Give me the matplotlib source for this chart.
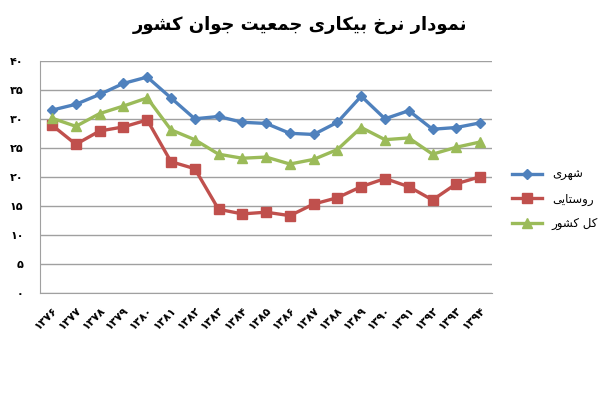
import matplotlib
matplotlib.use("Agg")
import matplotlib.pyplot as plt

years = ["1376", "1377", "1378", "1379", "1380", "1381", "1382", "1383", "1384", "1385",
         "1386", "1387", "1388", "1389", "1390", "1391", "1392", "1393", "1394"]
urban = [31.5, 32.5, 34.2, 36.1, 37.2, 33.6, 30.0, 30.4, 29.4, 29.2,
         27.5, 27.3, 29.4, 33.9, 30.0, 31.4, 28.2, 28.5, 29.3]
rural = [28.9, 25.6, 27.9, 28.6, 29.8, 22.6, 21.4, 14.4, 13.6, 13.9,
         13.3, 15.3, 16.4, 18.3, 19.7, 18.3, 16.0, 18.8, 20.0]
total = [30.1, 28.7, 30.9, 32.2, 33.6, 28.1, 26.4, 23.9, 23.2, 23.4,
         22.2, 23.0, 24.7, 28.5, 26.4, 26.7, 23.9, 25.1, 26.0]
yticks = [0, 5, 10, 15, 20, 25, 30, 35, 40]

title = "نمودار نرخ بیکاری جمعیت جوان کشور"
names = ["شهری", "روستایی", "کل کشور"]

# presentation forms: isolated, final, initial, medial
forms = {
    "ا": ("\uFE8D", "\uFE8E", None, None),
    "ب": ("\uFE8F", "\uFE90", "\uFE91", "\uFE92"),
    "ت": ("\uFE95", "\uFE96", "\uFE97", "\uFE98"),
    "ج": ("\uFE9D", "\uFE9E", "\uFE9F", "\uFEA0"),
    "خ": ("\uFEA5", "\uFEA6", "\uFEA7", "\uFEA8"),
    "د": ("\uFEA9", "\uFEAA", None, None),
    "ر": ("\uFEAD", "\uFEAE", None, None),
    "س": ("\uFEB1", "\uFEB2", "\uFEB3", "\uFEB4"),
    "ش": ("\uFEB5", "\uFEB6", "\uFEB7", "\uFEB8"),
    "ع": ("\uFEC9", "\uFECA", "\uFECB", "\uFECC"),
    "ل": ("\uFEDD", "\uFEDE", "\uFEDF", "\uFEE0"),
    "م": ("\uFEE1", "\uFEE2", "\uFEE3", "\uFEE4"),
    "ن": ("\uFEE5", "\uFEE6", "\uFEE7", "\uFEE8"),
    "ه": ("\uFEE9", "\uFEEA", "\uFEEB", "\uFEEC"),
    "و": ("\uFEED", "\uFEEE", None, None),
    "ک": ("\uFB8E", "\uFB8F", "\uFB90", "\uFB91"),
    "ی": ("\uFBFC", "\uFBFD", "\uFBFE", "\uFBFF"),
}


def shape(s):
    out = []
    for i, c in enumerate(s):
        if c not in forms:
            out.append(c)
            continue
        prev = s[i - 1] if i > 0 else ""
        nxt = s[i + 1] if i + 1 < len(s) else ""
        jp = prev in forms and forms[prev][2] is not None
        jn = forms[c][2] is not None and nxt in forms
        if jp and jn:
            out.append(forms[c][3])
        elif jp:
            out.append(forms[c][1])
        elif jn:
            out.append(forms[c][2])
        else:
            out.append(forms[c][0])
    return "".join(out)[::-1]


def fa_digits(s):
    return str(s).translate(str.maketrans("0123456789", "۰۱۲۳۴۵۶۷۸۹"))


plt.rcParams['font.family'] = ['DejaVu Sans']

fig = plt.figure(figsize=(6, 4), dpi=100)
ax = fig.add_axes([0.067, 0.268, 0.753, 0.58])

x = list(range(len(years)))
ax.plot(x, urban, color="#4F81BD", lw=2.4, marker="D", ms=5.5, label=shape(names[0]))
ax.plot(x, rural, color="#C0504D", lw=2.4, marker="s", ms=7, label=shape(names[1]))
ax.plot(x, total, color="#9BBB59", lw=2.4, marker="^", ms=7.5, label=shape(names[2]))

ax.set_xlim(-0.5, len(years) - 0.5)
ax.set_ylim(0, 40)
ax.set_yticks(yticks)
ax.set_yticklabels([fa_digits(v) for v in yticks], fontsize=8, fontweight="bold")
ax.set_xticks(x)
ax.set_xticklabels([fa_digits(y) for y in years], rotation=45, ha="right",
                   rotation_mode="anchor", fontsize=8, fontweight="bold")
ax.tick_params(length=0)
ax.tick_params(axis="y", pad=12)
ax.tick_params(axis="x", pad=9)
ax.yaxis.grid(True, color="#A0A0A0", lw=1)
ax.set_axisbelow(True)
for side in ["top", "right"]:
    ax.spines[side].set_visible(False)
ax.spines["left"].set_color("#A0A0A0")
ax.spines["bottom"].set_color("#A0A0A0")

ax.legend(loc="center left", bbox_to_anchor=(1.02, 0.404), frameon=False,
          fontsize=8.5, handlelength=2.6, labelspacing=0.95)

fig.text(0.5, 0.937, shape(title), ha="center", va="center", fontsize=13, fontweight="bold")

fig.savefig("out.png", dpi=100)
